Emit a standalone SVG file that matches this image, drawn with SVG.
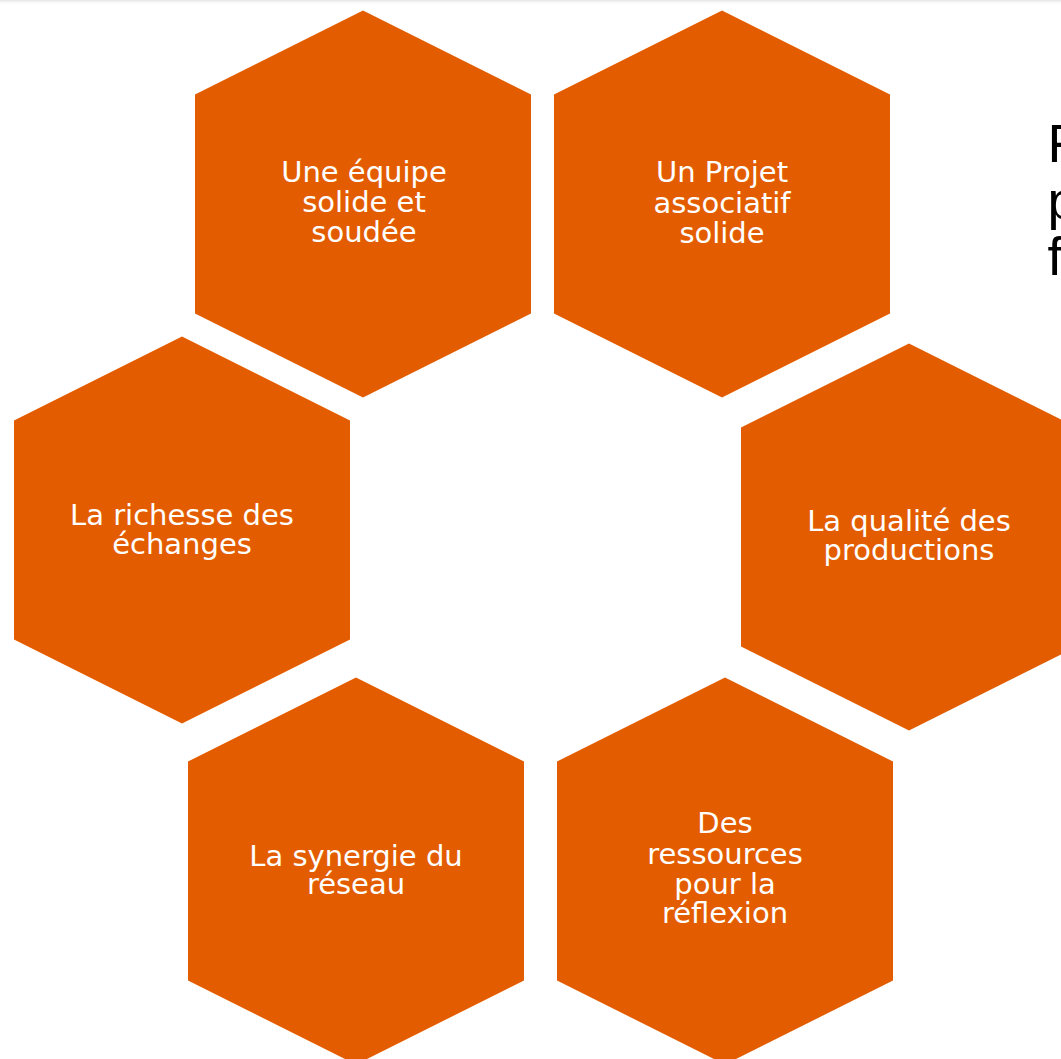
<svg xmlns="http://www.w3.org/2000/svg" width="1061" height="1059" viewBox="0 0 1061 1059">
  <defs>
    <linearGradient id="topShadow" x1="0" y1="0" x2="0" y2="1">
      <stop offset="0" stop-color="#e4e4e4"/>
      <stop offset="1" stop-color="#ffffff" stop-opacity="0"/>
    </linearGradient>
    <polygon id="hex" points="0,-193.5 168,-109.5 168,109.5 0,193.5 -168,109.5 -168,-109.5"/>
  </defs>
  <style>
    .hex { fill: #E35D00; }
    .lbl { font-family: "DejaVu Sans", Verdana, sans-serif; font-size: 29px; fill: #ffffff; text-anchor: middle; }
    .side { font-family: "Liberation Sans", Arial, sans-serif; font-size: 54px; fill: #000000; }
  </style>
  <rect x="0" y="0" width="1061" height="1059" fill="#ffffff"/>
  <rect x="0" y="0" width="1061" height="5" fill="url(#topShadow)"/>

  <g id="connectors"></g>

  <g id="node-equipe">
    <use href="#hex" class="hex" x="363" y="204"/>
    <text class="lbl" x="364" y="182">Une équipe</text>
    <text class="lbl" x="364" y="212">solide et</text>
    <text class="lbl" x="364" y="242">soudée</text>
  </g>

  <g id="node-projet">
    <use href="#hex" class="hex" x="722" y="204"/>
    <text class="lbl" x="722" y="182">Un Projet</text>
    <text class="lbl" x="722" y="212.5">associatif</text>
    <text class="lbl" x="722" y="243">solide</text>
  </g>

  <g id="node-echanges">
    <use href="#hex" class="hex" x="182" y="530"/>
    <text class="lbl" x="182" y="524.5">La richesse des</text>
    <text class="lbl" x="182" y="554">échanges</text>
  </g>

  <g id="node-productions">
    <use href="#hex" class="hex" x="909" y="537"/>
    <text class="lbl" x="909" y="531">La qualité des</text>
    <text class="lbl" x="909" y="560">productions</text>
  </g>

  <g id="node-reseau">
    <use href="#hex" class="hex" x="356" y="871"/>
    <text class="lbl" x="356" y="866">La synergie du</text>
    <text class="lbl" x="356" y="894">réseau</text>
  </g>

  <g id="node-ressources">
    <use href="#hex" class="hex" x="725" y="871"/>
    <text class="lbl" x="725" y="833">Des</text>
    <text class="lbl" x="725" y="863.5">ressources</text>
    <text class="lbl" x="725" y="894">pour la</text>
    <text class="lbl" x="725" y="923">réflexion</text>
  </g>

  <g id="side-text">
    <text class="side" x="1047.5" y="162">F</text>
    <text class="side" x="1047.5" y="218.5">p</text>
    <text class="side" x="1047.5" y="275">f</text>
  </g>
</svg>
